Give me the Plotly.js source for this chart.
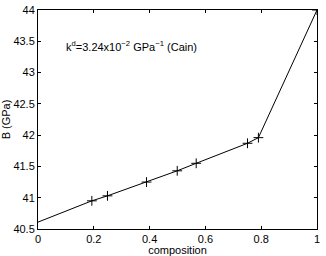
<!DOCTYPE html>
<html>
<head>
<meta charset="utf-8">
<script src="https://cdn.plot.ly/plotly-3.0.1.min.js"></script>
<style>html,body{margin:0;padding:0;background:#fff;}#chart{width:326px;height:256px;}</style>
</head>
<body>
<div id="chart"></div>
<script>
var composition = [0, 0.193, 0.249, 0.389, 0.499, 0.567, 0.751, 0.790, 1.0];
var bulkModulus = [40.61, 40.95, 41.03, 41.25, 41.43, 41.55, 41.87, 41.96, 44.0];
var xTicks = [0, 0.2, 0.4, 0.6, 0.8, 1];
var xTickLabels = ['0', '0.2', '0.4', '0.6', '0.8', '1'];
var yTicks = [40.5, 41, 41.5, 42, 42.5, 43, 43.5, 44];
var yTickLabels = ['40.5', '41', '41.5', '42', '42.5', '43', '43.5', '44'];
var noteText = 'k<sup>d</sup>=3.24x10<sup>\u22122</sup> GPa<sup>\u22121</sup> (Cain)';

var fontFam = 'Liberation Sans, Arial, sans-serif';
var traces = [
  {x: composition, y: bulkModulus, mode: 'lines', type: 'scatter',
   line: {color: '#000', width: 1}, hoverinfo: 'skip'},
  {x: composition.slice(1), y: bulkModulus.slice(1), mode: 'markers', type: 'scatter',
   marker: {symbol: 'cross-thin-open', size: 7, color: '#000', line: {color: '#000', width: 1}}, hoverinfo: 'skip'}
];
var axisCommon = {
  showline: true, linecolor: '#000', linewidth: 1, mirror: 'ticks',
  ticks: 'inside', ticklen: 3, tickcolor: '#000', tickwidth: 1,
  showgrid: false, zeroline: false, tickfont: {family: fontFam, size: 11, color: '#000'}
};
var layout = {
  width: 326, height: 256,
  margin: {l: 38, r: 9, t: 10, b: 27},
  paper_bgcolor: '#fff', plot_bgcolor: '#fff',
  showlegend: false,
  xaxis: Object.assign({}, axisCommon, {
    range: [0, 1], tickmode: 'array', tickvals: xTicks, ticktext: xTickLabels,
    title: {text: 'composition', font: {family: fontFam, size: 11, color: '#000'}, standoff: 2}
  }),
  yaxis: Object.assign({}, axisCommon, {
    range: [40.5, 44], tickmode: 'array', tickvals: yTicks, ticktext: yTickLabels,
    title: {text: 'B (GPa)', font: {family: fontFam, size: 11, color: '#000'}, standoff: 4}
  }),
  annotations: [{
    xref: 'x', yref: 'y', x: 0.093, y: 43.43, xanchor: 'left', yanchor: 'middle',
    text: noteText, showarrow: false, font: {family: fontFam, size: 11, color: '#000'}
  }]
};
Plotly.newPlot('chart', traces, layout, {staticPlot: true, displayModeBar: false});
</script>
</body>
</html>
